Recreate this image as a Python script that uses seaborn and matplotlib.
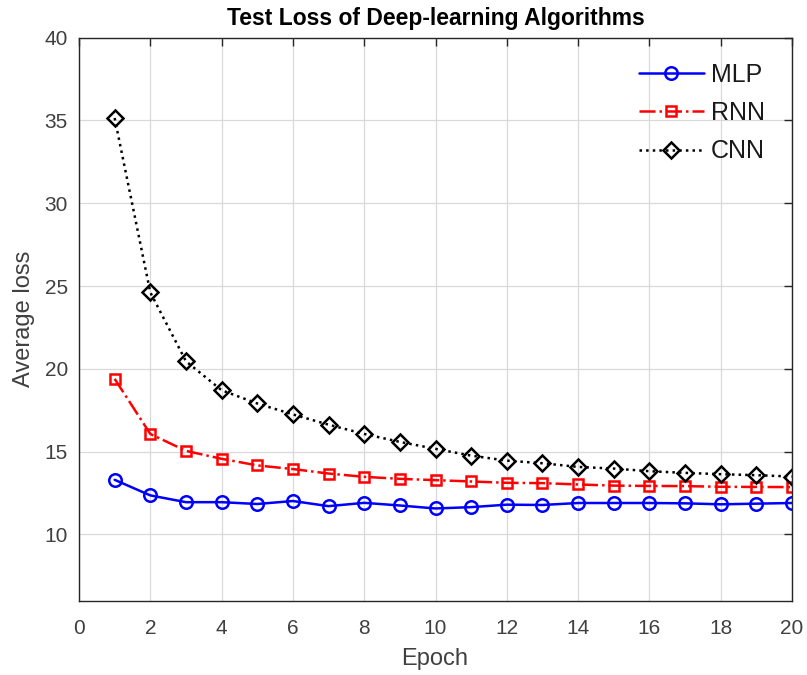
import numpy as np
import pandas as pd
import matplotlib
matplotlib.use("Agg")
import matplotlib.pyplot as plt
import seaborn as sns

epochs = list(range(1, 21))
mlp_loss = [13.3, 12.36, 11.95, 11.95, 11.84, 12.02, 11.71, 11.91, 11.75, 11.57,
            11.65, 11.8, 11.78, 11.9, 11.9, 11.9, 11.88, 11.82, 11.86, 11.9]
rnn_loss = [19.4, 16.07, 15.05, 14.57, 14.17, 13.95, 13.68, 13.48, 13.36, 13.28,
            13.2, 13.12, 13.1, 13.02, 12.95, 12.93, 12.92, 12.88, 12.87, 12.86]
cnn_loss = [35.15, 24.62, 20.46, 18.71, 17.91, 17.25, 16.63, 16.07, 15.59, 15.17,
            14.76, 14.46, 14.3, 14.08, 13.98, 13.82, 13.72, 13.64, 13.58, 13.5]
series_names = ["MLP", "RNN", "CNN"]

df = pd.DataFrame({
    "Epoch": epochs * 3,
    "loss": mlp_loss + rnn_loss + cnn_loss,
    "model": sum([[n] * len(epochs) for n in series_names], []),
})

sns.set_theme(style="white")
plt.rcParams["font.family"] = ["Liberation Sans", "DejaVu Sans"]

fig = plt.figure(figsize=(8.07, 6.75), dpi=100)
ax = fig.add_axes([79 / 807, 1 - 600.7 / 675, (792 - 79) / 807, (600.7 - 37.7) / 675])

styles = {
    "MLP": dict(color="#0000ff", ls="-", marker="o", ms=9, lw=1.8),
    "RNN": dict(color="#ff0000", ls="-.", marker="s", ms=7, lw=1.8),
    "CNN": dict(color="#000000", ls=":", marker="D", ms=8.5, lw=1.8),
}
for name in series_names:
    st = styles[name]
    sns.lineplot(data=df[df["model"] == name], x="Epoch", y="loss", ax=ax,
                 color=st["color"], linestyle=st["ls"], linewidth=st["lw"],
                 marker=st["marker"], markersize=st["ms"], markerfacecolor="none",
                 markeredgecolor=st["color"], markeredgewidth=1.8, label=name)

ax.set_xlim(0, 20)
ax.set_ylim(6, 40)
ax.set_xticks(np.arange(0, 21, 2))
ax.set_yticks(np.arange(10, 41, 5))
ax.grid(True, color="#d9d9d9", linewidth=0.9)
for s in ax.spines.values():
    s.set_visible(True)
    s.set_color("#262626")
    s.set_linewidth(1.0)
ax.tick_params(direction="in", length=6, width=1.0, colors="#262626",
               labelcolor="#404040", labelsize=15, top=True, right=True)
ax.tick_params(axis="x", pad=13)
ax.tick_params(axis="y", pad=8)

ax.set_xlabel("Epoch", fontsize=17, color="#404040")
ax.set_ylabel("Average loss", fontsize=17, color="#404040")
ax.xaxis.set_label_coords((435 - 79) / 713, -(659 - 600.7) / 563)
ax.xaxis.label.set_va("center")
ax.yaxis.set_label_coords((24 - 79) / 713, (600.7 - 319) / 563)
ax.yaxis.label.set_va("center")
ax.set_title("Test Loss of Deep-learning Algorithms", fontsize=16.5,
             fontweight="bold", color="#000000", pad=9)

leg = ax.legend(loc="upper right", frameon=False, fontsize=18,
                handlelength=2.6, handletextpad=0.3, borderaxespad=0.0,
                labelspacing=0.57, bbox_to_anchor=(0.9765, 0.973))
for t in leg.get_texts():
    t.set_color("#1a1a1a")

fig.savefig("out.png", dpi=100)
